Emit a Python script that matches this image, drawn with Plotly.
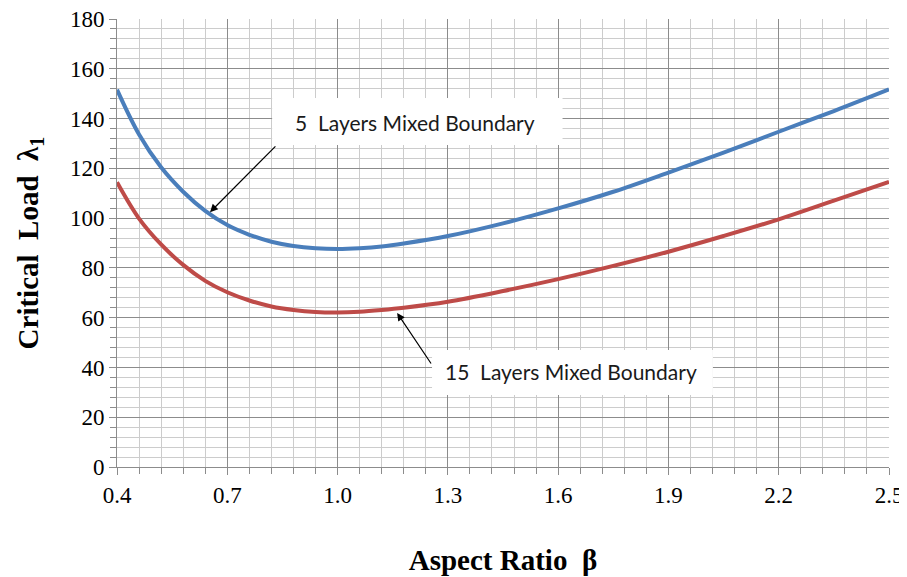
import plotly.graph_objects as go

beta = [0.40, 0.46, 0.52, 0.58, 0.64, 0.70, 0.76, 0.82, 0.88, 0.94, 1.00, 1.06, 1.12, 1.18,
        1.30, 1.45, 1.60, 1.75, 1.90, 2.05, 2.20, 2.35, 2.50]
load_5 = [151.6, 133.6, 120.4, 110.6, 102.9, 97.2, 93.3, 90.5, 88.8, 87.9, 87.6, 87.9, 88.6, 89.8,
          92.8, 97.9, 103.9, 110.6, 118.3, 126.3, 134.7, 143.0, 151.7]
load_15 = [114.4, 99.8, 89.4, 81.2, 74.8, 70.2, 66.9, 64.5, 63.1, 62.3, 62.1, 62.4, 63.1, 64.0,
           66.4, 70.7, 75.5, 80.8, 86.5, 92.8, 99.5, 107.0, 114.6]
x_ticks = [0.4, 0.7, 1.0, 1.3, 1.6, 1.9, 2.2, 2.5]
x_labels = ["0.4", "0.7", "1.0", "1.3", "1.6", "1.9", "2.2", "2.5"]
label_5 = "5  Layers Mixed Boundary"
label_15 = "15  Layers Mixed Boundary"

fig = go.Figure()
fig.add_trace(go.Scatter(x=beta, y=load_5, mode="lines", line=dict(color="#4A7EBB", width=4, shape="spline"),
                         name=label_5, showlegend=False))
fig.add_trace(go.Scatter(x=beta, y=load_15, mode="lines", line=dict(color="#BE4B48", width=4, shape="spline"),
                         name=label_15, showlegend=False))

serif = "Liberation Serif, Times New Roman, serif"
lab_font = dict(family="Lato, Carlito, Calibri, sans-serif", size=21, color="#1a1a1a")

# white label boxes
fig.add_shape(type="rect", xref="x", yref="y", x0=0.822, x1=1.612, y0=129.4, y1=148.3,
              fillcolor="white", line=dict(width=0), layer="above")
fig.add_shape(type="rect", xref="x", yref="y", x0=1.257, x1=2.021, y0=28.9, y1=47.0,
              fillcolor="white", line=dict(width=0), layer="above")

fig.add_annotation(x=1.21, y=138.6, xref="x", yref="y", text=label_5, showarrow=False, font=lab_font)
fig.add_annotation(x=1.635, y=38.2, xref="x", yref="y", text=label_15, showarrow=False, font=lab_font)

# arrows
fig.add_annotation(x=0.653, y=102.4, xref="x", yref="y", ax=0.835, ay=129.4, axref="x", ayref="y",
                   text="", showarrow=True, arrowhead=2, arrowsize=1.3, arrowwidth=1.2, arrowcolor="black")
fig.add_annotation(x=1.162, y=61.9, xref="x", yref="y", ax=1.257, ay=41.0, axref="x", ayref="y",
                   text="", showarrow=True, arrowhead=2, arrowsize=1.3, arrowwidth=1.2, arrowcolor="black")

fig.update_layout(
    width=899, height=569,
    margin=dict(l=109, r=18, t=11, b=110),
    paper_bgcolor="white", plot_bgcolor="white",
    showlegend=False,
)
fig.update_xaxes(
    range=[0.4, 2.5], tickmode="array", tickvals=x_ticks, ticktext=x_labels,
    automargin=False, ticklabeloverflow="allow",
    showgrid=True, gridcolor="#8c8c8c", gridwidth=1,
    showline=True, linecolor="#8c8c8c", linewidth=1, mirror=False,
    ticks="outside", ticklen=7, tickcolor="#8c8c8c",
    tickfont=dict(family=serif, size=23, color="black"),
    minor=dict(dtick=0.06, tick0=0.4, showgrid=True, gridcolor="#cccccc", gridwidth=1,
               ticks="outside", ticklen=6, tickcolor="#8c8c8c"),
    title=dict(text="<b>Aspect Ratio  β</b>", font=dict(family=serif, size=29, color="black"), standoff=43),
    zeroline=False,
)
fig.update_yaxes(
    range=[0, 180], dtick=20, tick0=0,
    automargin=False, ticklabeloverflow="allow",
    showgrid=True, gridcolor="#8c8c8c", gridwidth=1,
    showline=True, linecolor="#8c8c8c", linewidth=1,
    ticks="outside", ticklen=7, tickcolor="#8c8c8c",
    tickfont=dict(family=serif, size=23, color="black"),
    minor=dict(dtick=4, showgrid=True, gridcolor="#cccccc", gridwidth=1,
               ticks="outside", ticklen=6, tickcolor="#8c8c8c"),
    title=dict(text="<b>Critical  Load  λ<sub>1</sub></b>", font=dict(family=serif, size=29, color="black"), standoff=22),
    zeroline=False,
)

fig.write_html("out.html")
